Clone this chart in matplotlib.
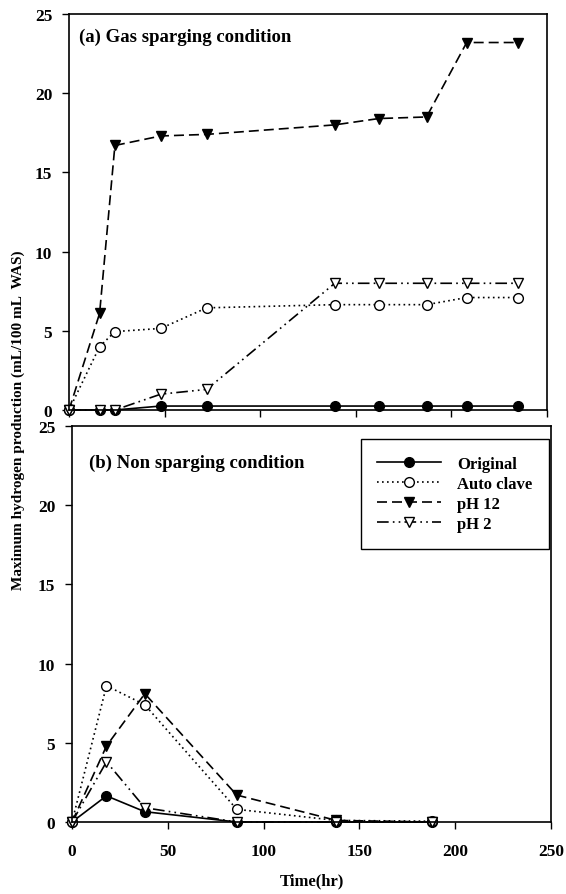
import numpy as np
import matplotlib
matplotlib.use("Agg")
import matplotlib.pyplot as plt

plt.rcParams['font.family'] = ['Liberation Serif', 'DejaVu Serif']
plt.rcParams['font.weight'] = 'bold'

# (a) gas sparging condition
t_a = [0, 16, 24, 48, 72, 139, 162, 187, 208, 235]
orig_a = [0, 0, 0, 0.25, 0.25, 0.25, 0.25, 0.25, 0.25, 0.25]
auto_a = [0, 4.0, 4.95, 5.15, 6.45, 6.65, 6.65, 6.65, 7.1, 7.1]
ph12_a = [0, 6.1, 16.7, 17.3, 17.4, 18.0, 18.4, 18.5, 23.2, 23.2]
ph2_a = [0, 0, 0, 1.0, 1.3, 8.0, 8.0, 8.0, 8.0, 8.0]

# (b) non sparging condition
t_b = [0, 18, 38, 86, 138, 188]
orig_b = [0, 1.65, 0.65, 0, 0, 0]
auto_b = [0, 8.6, 7.4, 0.8, 0.1, 0.05]
ph12_b = [0, 4.8, 8.1, 1.7, 0.1, 0]
ph2_b = [0, 3.8, 0.9, 0, 0, 0]

names = ['Original', 'Auto clave', 'pH 12', 'pH 2']
xticks = [0, 50, 100, 150, 200, 250]
yticks = [0, 5, 10, 15, 20, 25]

styles = [
    dict(ls='-', marker='o', mfc='black'),
    dict(ls=(0, (1, 2)), marker='o', mfc='white'),
    dict(ls=(0, (6, 3)), marker='v', mfc='black'),
    dict(ls=(0, (7, 2.5, 1, 2.5, 1, 2.5)), marker='v', mfc='white'),
]

fig = plt.figure(figsize=(5.66, 8.95), dpi=100)
ax1 = fig.add_axes([69/566, 1-411/895, 478/566, 396/895])
ax2 = fig.add_axes([72/566, 1-823/895, 479/566, 396/895])

def draw(ax, t, series):
    for ys, st, nm in zip(series, styles, names):
        ax.plot(t, ys, color='black', lw=1.2, ms=7, mec='black', mew=1.0,
                label=nm, clip_on=False, **st)
    ax.set_xlim(0, 250)
    ax.set_ylim(0, 25)
    ax.set_xticks(xticks)
    ax.set_yticks(yticks)
    ax.tick_params(direction='out', length=5, width=1, labelsize=12.5)
    ax.tick_params(axis='x', pad=10)
    ax.tick_params(axis='y', pad=7)
    for s in ax.spines.values():
        s.set_linewidth(1.2)

draw(ax1, t_a, [orig_a, auto_a, ph12_a, ph2_a])
draw(ax2, t_b, [orig_b, auto_b, ph12_b, ph2_b])
ax1.set_xticklabels([])

ax1.text(0.02, 0.965, '(a) Gas sparging condition', transform=ax1.transAxes,
         fontsize=13.5, fontweight='bold', va='top', ha='left')
ax2.text(0.035, 0.93, '(b) Non sparging condition', transform=ax2.transAxes,
         fontsize=13.5, fontweight='bold', va='top', ha='left')

leg = ax2.legend(loc='upper right', bbox_to_anchor=(0.996, 0.967), borderaxespad=0,
                 fontsize=12, handlelength=3.8, fancybox=False, edgecolor='black',
                 framealpha=1, borderpad=1.0, labelspacing=0.25, handletextpad=1.0)
leg.get_frame().set_linewidth(1.0)

ax2.set_xlabel('Time(hr)', fontsize=12, fontweight='bold', labelpad=10)
fig.text(0.032, 1-420/895, 'Maximum hydrogen production (mL/100 mL  WAS)',
         rotation=90, fontsize=11, fontweight='bold', ha='center', va='center')

plt.savefig('out.png', dpi=100)
